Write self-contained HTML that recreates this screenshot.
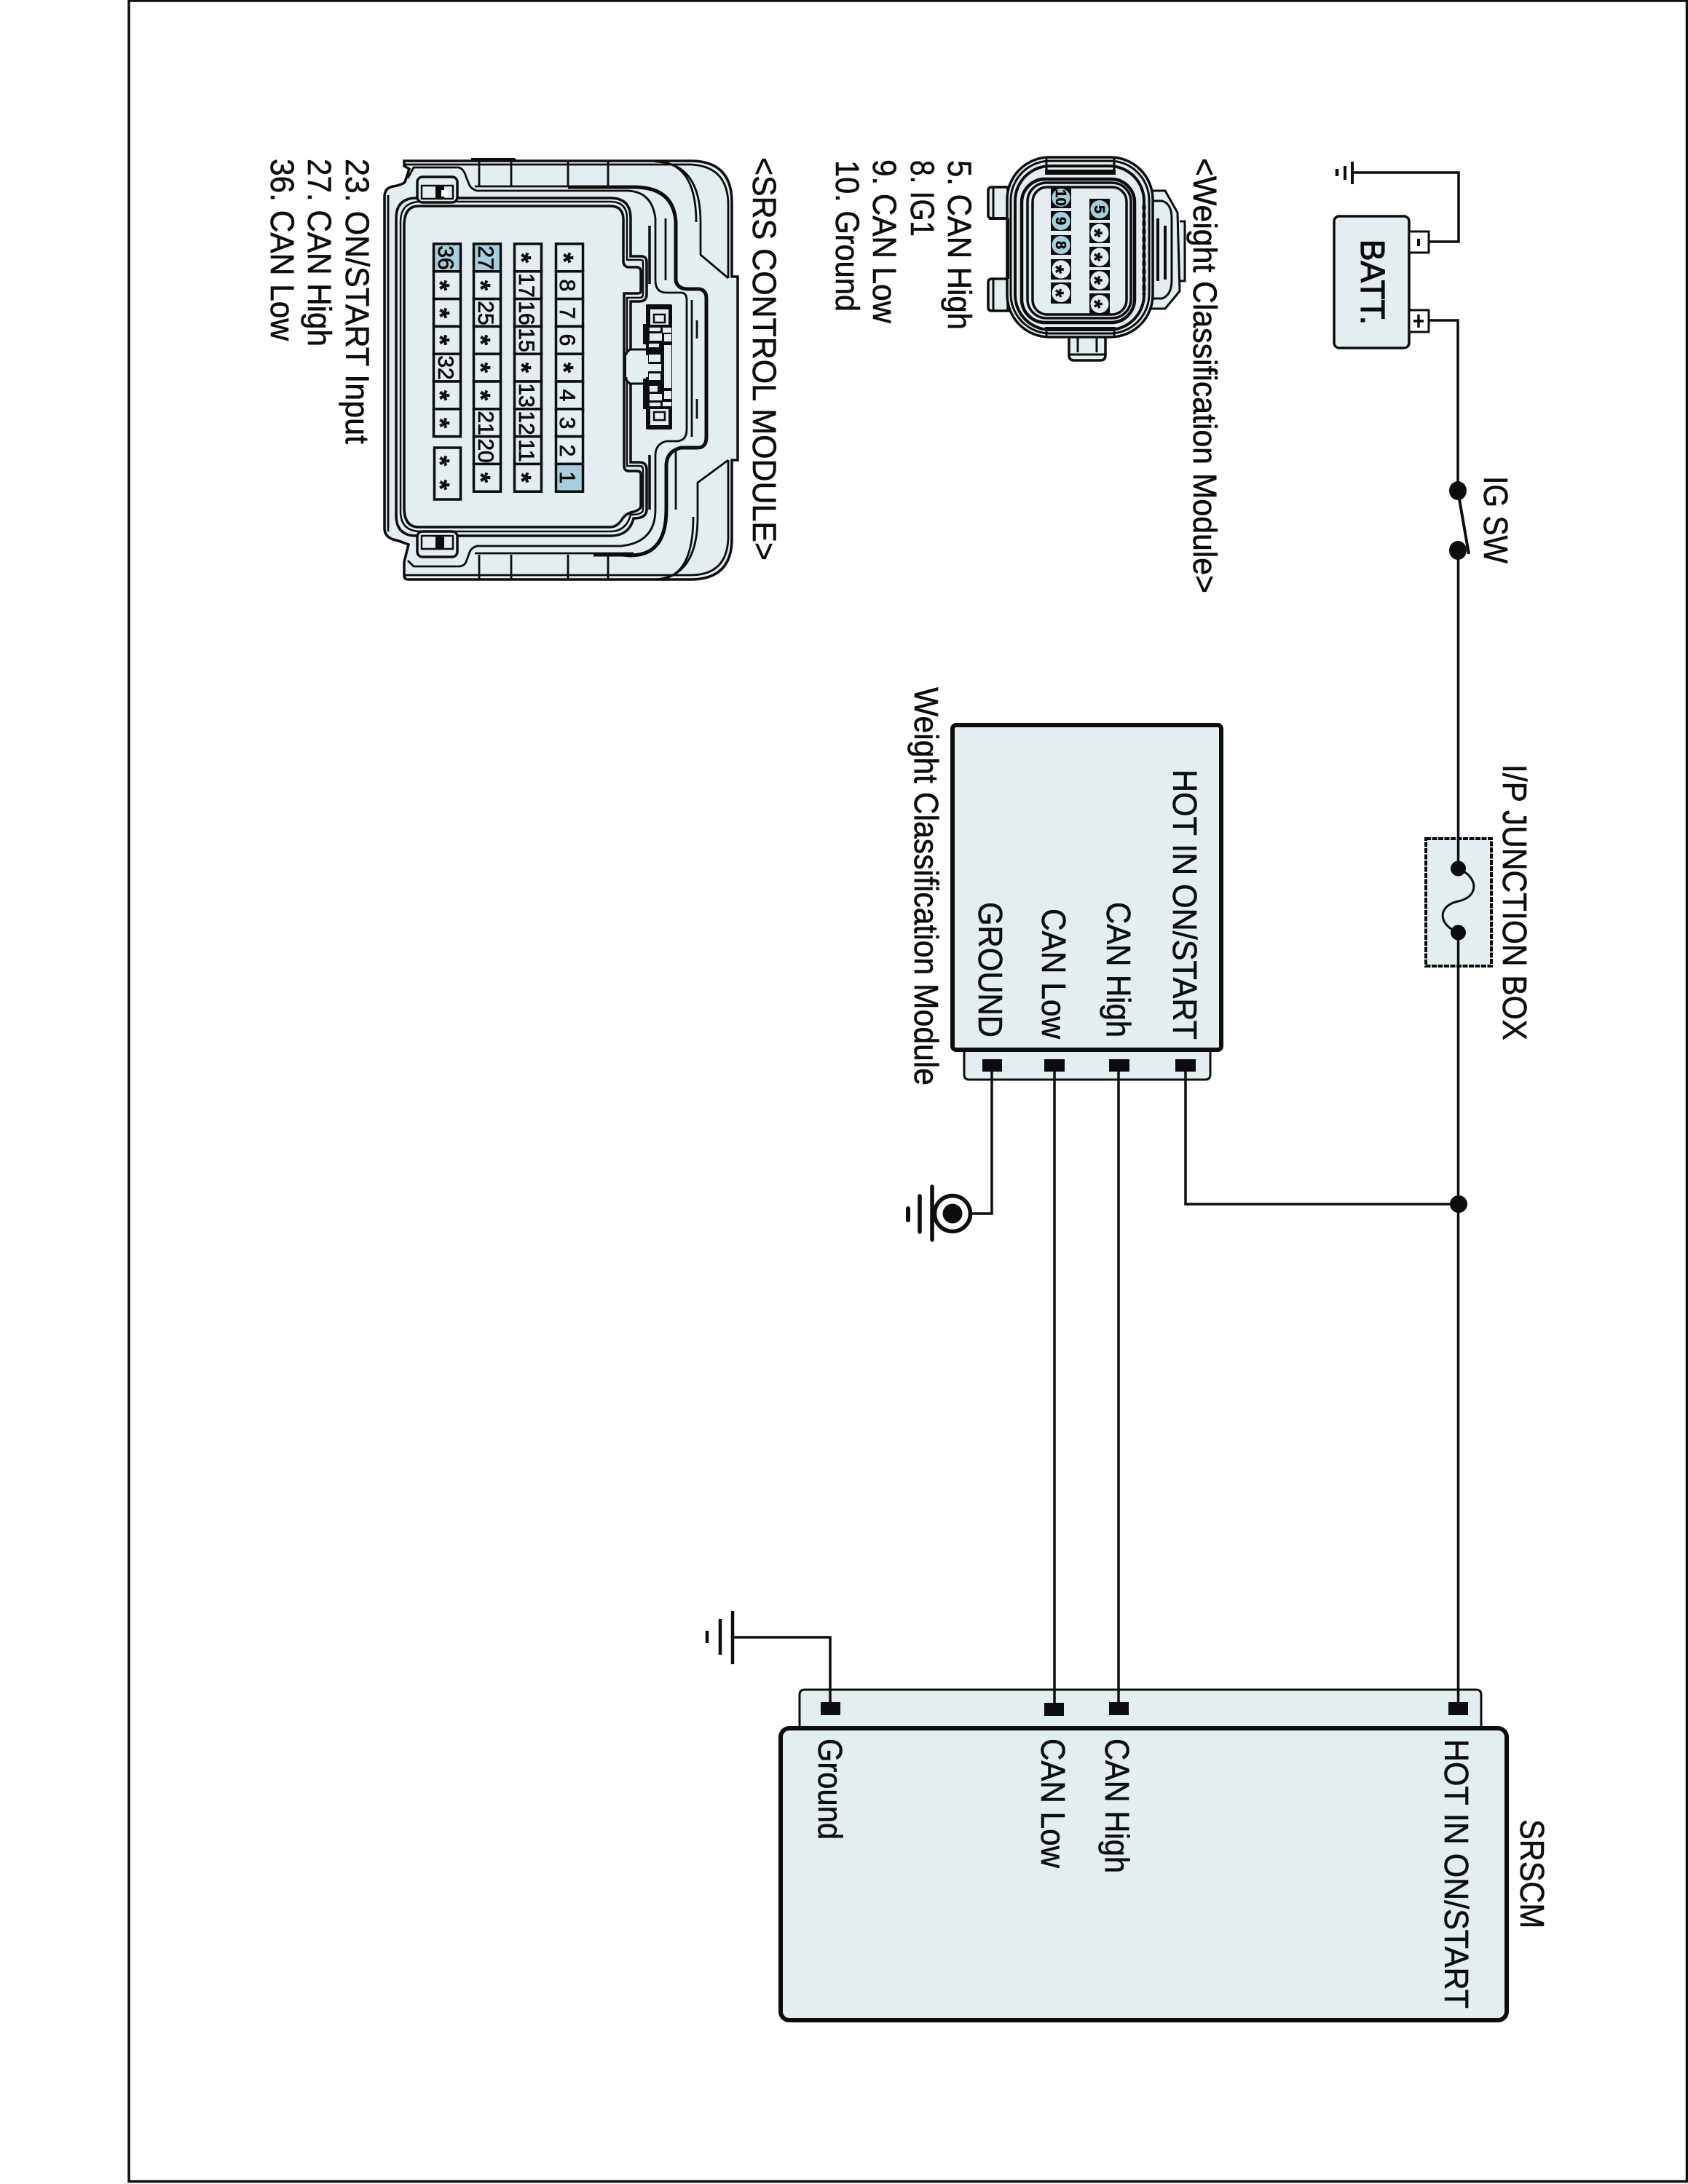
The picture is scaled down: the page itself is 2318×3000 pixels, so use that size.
<!DOCTYPE html>
<html><head><meta charset="utf-8"><style>
html,body{margin:0;padding:0;background:#fff}
svg{display:block}
text{font-family:"Liberation Sans",sans-serif;fill:#0d0d0d;stroke:#0d0d0d;stroke-width:.6px}
.t{font-size:46px}.l{font-size:45px}.n{font-size:30px;text-anchor:middle;stroke-width:.8px}.a{font-size:36px;font-weight:bold;text-anchor:middle}
.w{font-size:20px;text-anchor:middle;font-weight:bold}.b{font-size:30px;font-weight:bold;text-anchor:middle}
.k{fill:#0d0d0d;stroke:none}
.c{fill:#e4eef0;stroke:#0d0d0d;stroke-width:3.5}
.h{fill:#a5d0db;stroke:#0d0d0d;stroke-width:3.5}
</style></head><body>
<svg width="2318" height="3000" viewBox="0 0 2318 3000" xmlns="http://www.w3.org/2000/svg">
<rect width="2318" height="3000" fill="#fff"/>
<path d="M177 1H2316.5V2996.5H177Z" fill="none" stroke="#0d0d0d" stroke-width="3.5"/>

<!-- top ground + battery -->
<g fill="none" stroke="#0d0d0d" stroke-width="3.5">
<path d="M1857 237H2003V332H1962"/>
<path d="M1962 440H2002V674"/>
<path d="M2017 761L2003 680" stroke-width="4"/>
<path d="M1857 222V253M1847 228V247" stroke-width="4"/>
<path d="M1836 232V242" stroke-width="4.5"/>
</g>
<rect x="1832" y="297" width="103" height="181" rx="7" fill="#e4eef0" stroke="#0d0d0d" stroke-width="3.5"/>
<rect x="1935" y="318" width="27" height="29" fill="#fff" stroke="#0d0d0d" stroke-width="3"/>
<rect x="1935" y="426" width="27" height="30" fill="#fff" stroke="#0d0d0d" stroke-width="3"/>
<path d="M1948 328V338" stroke="#0d0d0d" stroke-width="4"/>
<path d="M1948 432V450M1941 441H1955" stroke="#0d0d0d" stroke-width="3.5"/>
<text class="t" style="stroke-width:1.2px" transform="translate(1869,329) rotate(90)" textLength="117" lengthAdjust="spacingAndGlyphs">BATT.</text>
<ellipse cx="2002" cy="674" rx="12" ry="13" class="k"/>
<ellipse cx="2002" cy="756" rx="12" ry="13" class="k"/>
<text class="t" transform="translate(2038,654) rotate(90)" textLength="120" lengthAdjust="spacingAndGlyphs">IG SW</text>

<!-- fuse -->
<rect x="1958" y="1152" width="90" height="175" fill="#e4eef0" stroke="#0d0d0d" stroke-width="4" stroke-dasharray="7 1.5"/>
<path d="M2002.5 1193C2031 1205 2031 1232 2002.5 1238C1974 1244 1974 1270 2002.5 1281" fill="none" stroke="#0d0d0d" stroke-width="3"/>
<circle cx="2002.5" cy="1193" r="10.5" class="k"/>
<circle cx="2002.5" cy="1281" r="10.5" class="k"/>
<text class="t" transform="translate(2064,1050) rotate(90)" textLength="379" lengthAdjust="spacingAndGlyphs">I/P JUNCTION BOX</text>

<!-- weight classification module -->
<path d="M1324 1443V1476Q1324 1483 1331 1483H1655Q1662 1483 1662 1476V1443Z" fill="#e4eef0" stroke="#0d0d0d" stroke-width="3"/>
<rect x="1308" y="996" width="369" height="446" rx="5" fill="#e4eef0" stroke="#0d0d0d" stroke-width="6"/>

<!-- SRSCM boxes -->
<path d="M1098 2372V2328Q1098 2321 1105 2321H2027Q2034 2321 2034 2328V2372" fill="#e4eef0" stroke="#0d0d0d" stroke-width="3"/>
<rect x="1072" y="2374" width="997" height="401" rx="12" fill="#e4eef0" stroke="#0d0d0d" stroke-width="6"/>

<!-- wires on top of boxes -->
<g fill="none" stroke="#0d0d0d" stroke-width="3.5">
<path d="M2002.5 756V1193M2002.5 1281V2345"/>
<path d="M1362 1472V1667H1335"/>
<path d="M1448 1472V2345"/>
<path d="M1536 1472V2345"/>
<path d="M1628 1472V1654H2003"/>
<path d="M1140 2345V2249H1007"/>
</g>
<rect x="1349" y="1455" width="27" height="17" class="k"/>
<rect x="1434" y="1455" width="28" height="17" class="k"/>
<rect x="1523" y="1455" width="28" height="17" class="k"/>
<rect x="1614" y="1455" width="28" height="17" class="k"/>
<rect x="1127" y="2338" width="27" height="18" class="k"/>
<rect x="1434" y="2339" width="27" height="18" class="k"/>
<rect x="1523" y="2338" width="27" height="18" class="k"/>
<rect x="1989" y="2338" width="27" height="18" class="k"/>
<circle cx="2003" cy="1654" r="12" class="k"/>
<circle cx="1308" cy="1667" r="24.5" fill="#fff" stroke="#0d0d0d" stroke-width="5.5"/>
<circle cx="1308" cy="1667" r="13.5" class="k"/>
<path d="M1280 1630V1703M1263 1643V1692" stroke="#0d0d0d" stroke-width="5.5" stroke-linecap="round"/>
<path d="M1247 1660V1676" stroke="#0d0d0d" stroke-width="6" stroke-linecap="round"/>
<text class="t" transform="translate(1611,1057) rotate(90)" textLength="371" lengthAdjust="spacingAndGlyphs">HOT IN ON/START</text>
<text class="t" transform="translate(1520,1239) rotate(90)" textLength="186" lengthAdjust="spacingAndGlyphs">CAN High</text>
<text class="t" transform="translate(1431,1248) rotate(90)" textLength="179" lengthAdjust="spacingAndGlyphs">CAN Low</text>
<text class="t" transform="translate(1344,1239) rotate(90)" textLength="186" lengthAdjust="spacingAndGlyphs">GROUND</text>
<text class="t" transform="translate(1256,944) rotate(90)" textLength="547" lengthAdjust="spacingAndGlyphs">Weight Classification Module</text>

<path d="M1006 2213V2286M989 2224V2273" stroke="#0d0d0d" stroke-width="4.5"/>
<path d="M971 2240V2257" stroke="#0d0d0d" stroke-width="4.5"/>
<text class="t" transform="translate(1124,2388) rotate(90)" textLength="139" lengthAdjust="spacingAndGlyphs">Ground</text>
<text class="t" transform="translate(1430,2388) rotate(90)" textLength="178" lengthAdjust="spacingAndGlyphs">CAN Low</text>
<text class="t" transform="translate(1518,2388) rotate(90)" textLength="185" lengthAdjust="spacingAndGlyphs">CAN High</text>
<text class="t" transform="translate(1984,2389) rotate(90)" textLength="370" lengthAdjust="spacingAndGlyphs">HOT IN ON/START</text>
<text class="t" transform="translate(2088,2499) rotate(90)" textLength="150" lengthAdjust="spacingAndGlyphs">SRSCM</text>

<!-- Weight Classification connector labels -->
<text class="l" transform="translate(1639,217) rotate(90)" textLength="598" lengthAdjust="spacingAndGlyphs">&lt;Weight Classification Module&gt;</text>
<text class="l" transform="translate(1302,220) rotate(90)" textLength="233" lengthAdjust="spacingAndGlyphs">5. CAN High</text>
<text class="l" transform="translate(1251,220) rotate(90)" textLength="105" lengthAdjust="spacingAndGlyphs">8. IG1</text>
<text class="l" transform="translate(1199,219) rotate(90)" textLength="225" lengthAdjust="spacingAndGlyphs">9. CAN Low</text>
<text class="l" transform="translate(1148,220) rotate(90)" textLength="208" lengthAdjust="spacingAndGlyphs">10. Ground</text>

<!-- Weight Classification connector drawing -->
<path d="M1620 304H1627V386H1620" fill="#e4eef0" stroke="#0d0d0d" stroke-width="3"/>
<path d="M1578 262H1600L1617 292L1620 400L1600 424H1578Z" fill="#e4eef0" stroke="#0d0d0d" stroke-width="3"/>
<path d="M1578 276H1596Q1609 280 1609 300V385Q1609 405 1596 410H1578" fill="none" stroke="#0d0d0d" stroke-width="3"/>
<path d="M1590 300V386M1600 310V384" fill="none" stroke="#0d0d0d" stroke-width="4"/>
<path d="M1384 257H1362Q1357 257 1357 262V295Q1357 300 1362 300H1384Z" fill="#e4eef0" stroke="#0d0d0d" stroke-width="3.5"/>
<path d="M1384 383H1362Q1357 383 1357 388V422Q1357 427 1362 427H1384Z" fill="#e4eef0" stroke="#0d0d0d" stroke-width="3.5"/>
<path d="M1468 460V488Q1468 495 1475 495H1511Q1518 495 1518 488V460Z" fill="#e4eef0" stroke="#0d0d0d" stroke-width="3.5"/>
<path d="M1364 257V300M1364 383V427M1468 487H1518M1480 462V484M1506 462V484" fill="none" stroke="#0d0d0d" stroke-width="3"/>
<g fill="#e4eef0" stroke="#0d0d0d">
<rect x="1383" y="216" width="200" height="247" rx="58" stroke-width="3.5"/>
<rect x="1388" y="221" width="190" height="237" rx="54" stroke-width="3"/>
<rect x="1394" y="228" width="177" height="225" rx="48" stroke-width="4"/>
<rect x="1403" y="246" width="155" height="197" rx="32" stroke-width="4.5"/>
<rect x="1411" y="251" width="142" height="186" rx="26" stroke-width="3.5"/>
<rect x="1418" y="257" width="129" height="175" rx="20" stroke-width="3.5"/>
</g>
<path d="M1358 300H1384M1384 300V383" fill="none" stroke="#0d0d0d" stroke-width="4"/>
<rect x="1435" y="233" width="97" height="7" class="k"/>
<rect x="1435" y="449" width="97" height="6" class="k"/>
<path d="M1437 216V233M1530 216V233M1437 455V463M1530 455V463" stroke="#0d0d0d" stroke-width="3" fill="none"/>
<path d="M1571 282V405" stroke="#0d0d0d" stroke-width="5" stroke-dasharray="6 5" fill="none"/>

<g class="k">
<rect x="1443" y="257" width="28" height="29"/>
<rect x="1443" y="290" width="28" height="27"/>
<rect x="1443" y="323" width="28" height="27"/>
<rect x="1443" y="356" width="28" height="28"/>
<rect x="1443" y="388" width="28" height="29"/>
<rect x="1496" y="273" width="28" height="29"/>
<rect x="1496" y="306" width="28" height="28"/>
<rect x="1496" y="339" width="28" height="28"/>
<rect x="1496" y="371" width="28" height="28"/>
<rect x="1496" y="403" width="28" height="29"/>
</g>
<circle cx="1457" cy="271.5" r="12.5" fill="#a5d0db"/>
<circle cx="1457" cy="303.5" r="12.5" fill="#a5d0db"/>
<circle cx="1457" cy="336.5" r="12.5" fill="#a5d0db"/>
<circle cx="1457" cy="370" r="12.5" fill="#e4eef0"/>
<circle cx="1457" cy="402.5" r="12.5" fill="#e4eef0"/>
<circle cx="1510" cy="287.5" r="12.5" fill="#a5d0db"/>
<circle cx="1510" cy="320" r="12.5" fill="#e4eef0"/>
<circle cx="1510" cy="353" r="12.5" fill="#e4eef0"/>
<circle cx="1510" cy="385" r="12.5" fill="#e4eef0"/>
<circle cx="1510" cy="417.5" r="12.5" fill="#e4eef0"/>
<text class="w" transform="translate(1450,271.5) rotate(90)" textLength="23" lengthAdjust="spacingAndGlyphs">10</text>
<text class="w" transform="translate(1450,303.5) rotate(90)">9</text>
<text class="w" transform="translate(1450,336.5) rotate(90)">8</text>
<text class="w" transform="translate(1503,287.5) rotate(90)">5</text>
<text class="b" transform="translate(1440,370) rotate(90)">*</text>
<text class="b" transform="translate(1440,402.5) rotate(90)">*</text>
<text class="b" transform="translate(1493,320) rotate(90)">*</text>
<text class="b" transform="translate(1493,353) rotate(90)">*</text>
<text class="b" transform="translate(1493,385) rotate(90)">*</text>
<text class="b" transform="translate(1493,417.5) rotate(90)">*</text>

<!-- SRS labels -->
<text class="l" transform="translate(1034,216) rotate(90)" textLength="554" lengthAdjust="spacingAndGlyphs">&lt;SRS CONTROL MODULE&gt;</text>
<text class="l" transform="translate(475,218) rotate(90)" textLength="392" lengthAdjust="spacingAndGlyphs">23. ON/START Input</text>
<text class="l" transform="translate(423,218) rotate(90)" textLength="258" lengthAdjust="spacingAndGlyphs">27. CAN High</text>
<text class="l" transform="translate(372,218) rotate(90)" textLength="250" lengthAdjust="spacingAndGlyphs">36. CAN Low</text>

<!-- SRS connector drawing -->
<path d="M647 217H706Q708 217 710 221H647Z" class="k"/>
<path d="M555 221L948 221Q1005 221 1005 278L1005 380L1013 380L1013 632L1005 632L1005 740Q1005 796 948 796L560 796Q555 796 555 790L555 772L561 748L553 745Q548 743 540 741Q528 737 528 726L528 270Q528 258 540 256Q552 254 556 250L562 232L555 228Z" fill="#e4eef0" stroke="#0d0d0d" stroke-width="3.5"/>
<g fill="none" stroke="#0d0d0d" stroke-width="2.8">
<path d="M533 268V730"/>
<path d="M556 226H948Q998 228 1000 278V382"/>
<path d="M556 790H948Q998 790 1000 740V632"/>
<path d="M900 222Q962 224 962 305V350L1000 382"/>
<path d="M905 222Q956 226 956 305"/>
<path d="M900 796Q958 792 958 710V663L1000 632"/>
<path d="M910 795Q952 788 952 710"/>
<path d="M658 221V255M702 221V255M780 221V255M835 221V255"/>
<path d="M658 762V796M702 762V796M780 762V796M835 762V796"/>
<path d="M560 245L568 230H630Q637 232 640 243L645 255Q648 260 655 262H860Q895 262 900 300V385Q900 402 915 402H935Q943 402 943 412V590Q943 605 930 606H915Q900 610 900 625V700Q900 745 853 750H655Q648 752 645 758L640 772Q637 778 630 778H568L560 770"/>
<path d="M914 300V385M915 632V710"/>
<path d="M928 300V385M928 620V700"/>
<path d="M950 412V600"/>
<path d="M957 440V465M957 548V575"/>
<path d="M652 256H870M652 760H870"/>
</g>
<path d="M780 257H870Q925 257 928 305V385Q930 397 945 397H958Q970 397 970 410V600Q970 615 958 615H935Q915 620 915 640V700Q915 770 855 762H815" fill="none" stroke="#0d0d0d" stroke-width="5"/>
<path d="M892 310V390M892 625V700" stroke="#0d0d0d" stroke-width="3.5" fill="none"/>
<!-- well, outer -->
<path d="M544 300Q544 272 572 272H838Q866 272 866 300V352H880Q888 352 888 360V404Q888 414 878 414H866V635H878Q888 635 888 645V700Q888 712 870 712Q864 736 838 736H572Q544 736 544 708Z" fill="#e4eef0" stroke="#0d0d0d" stroke-width="3.5"/>
<path d="M550 305Q550 277 578 277H838Q861 277 861 300V357H880Q883 357 883 360V404Q883 409 878 409H861V640H878Q883 640 883 645V700Q883 707 866 707Q860 730 838 730H578Q550 730 550 702Z" fill="none" stroke="#0d0d0d" stroke-width="2.5"/>
<path d="M575 283H838Q855 283 856 300V360Q857 367 864 367H875Q880 368 880 373V400Q880 403 875 403H857V640Q857 647 864 647H875Q880 647 880 652V695Q880 700 870 703Q860 705 855 712Q848 724 838 724H575Q556 724 555 700V310Q555 283 575 283Z" fill="#e4eef0" stroke="#0d0d0d" stroke-width="3.5"/>
<!-- clips -->
<g fill="#e4eef0" stroke="#0d0d0d">
<rect x="573" y="243" width="55" height="35" rx="7" stroke-width="3.5"/>
<rect x="579" y="255" width="43" height="18" stroke-width="2.5"/>
<rect x="573" y="730" width="55" height="35" rx="7" stroke-width="3.5"/>
<rect x="579" y="736" width="43" height="18" stroke-width="2.5"/>
</g>
<rect x="598" y="256" width="12" height="18" class="k"/>
<rect x="606" y="261" width="9" height="9" fill="#fff"/>
<rect x="598" y="736" width="12" height="17" class="k"/>
<!-- centre latch -->
<path d="M860 485L865 480H890V527H865L860 522Z" fill="#e4eef0" stroke="#0d0d0d" stroke-width="3"/>
<rect x="883" y="445" width="5" height="28" class="k"/>
<rect x="883" y="520" width="5" height="42" class="k"/>
<rect x="887" y="418" width="36" height="172" rx="2" class="k"/>
<g fill="#e4eef0">
<rect x="893" y="425" width="25" height="21"/>
<rect x="893" y="562" width="25" height="22"/>
<rect x="892" y="450" width="15" height="5"/>
<rect x="910" y="450" width="12" height="7"/>
<rect x="892" y="458" width="17" height="10"/>
<rect x="912" y="459" width="10" height="10"/>
<rect x="891" y="472" width="14" height="5"/>
<rect x="912" y="474" width="10" height="59"/>
<rect x="891" y="487" width="16" height="10"/>
<rect x="860" y="488" width="30" height="30"/>
<rect x="888" y="500" width="20" height="10"/>
<rect x="891" y="513" width="16" height="9"/>
<rect x="892" y="530" width="11" height="8"/>
<rect x="912" y="537" width="10" height="11"/>
<rect x="892" y="541" width="17" height="9"/>
<rect x="892" y="553" width="15" height="5"/>
<rect x="910" y="552" width="12" height="6"/>
</g>
<rect x="898" y="432" width="15" height="11" fill="#e4eef0" stroke="#0d0d0d" stroke-width="2.5"/>
<rect x="898" y="566" width="15" height="11" fill="#e4eef0" stroke="#0d0d0d" stroke-width="2.5"/>

<!-- SRS pins -->
<g>
<rect x="595.5" y="335" width="37" height="37.8" class="h"/><rect x="595.5" y="372.8" width="37" height="37.8" class="c"/><rect x="595.5" y="410.6" width="37" height="37.8" class="c"/><rect x="595.5" y="448.4" width="37" height="37.8" class="c"/><rect x="595.5" y="486.2" width="37" height="37.8" class="c"/><rect x="595.5" y="524" width="37" height="37.8" class="c"/><rect x="595.5" y="561.8" width="37" height="37.8" class="c"/><rect x="596.5" y="615" width="36" height="71" class="c"/>
<rect x="650.5" y="335" width="37" height="37.8" class="h"/><rect x="650.5" y="372.8" width="37" height="37.8" class="c"/><rect x="650.5" y="410.6" width="37" height="37.8" class="c"/><rect x="650.5" y="448.4" width="37" height="37.8" class="c"/><rect x="650.5" y="486.2" width="37" height="37.8" class="c"/><rect x="650.5" y="524" width="37" height="37.8" class="c"/><rect x="650.5" y="561.8" width="37" height="37.8" class="c"/><rect x="650.5" y="599.6" width="37" height="37.8" class="c"/><rect x="650.5" y="637.4" width="37" height="37.8" class="c"/>
<rect x="706.5" y="335" width="37" height="37.8" class="c"/><rect x="706.5" y="372.8" width="37" height="37.8" class="c"/><rect x="706.5" y="410.6" width="37" height="37.8" class="c"/><rect x="706.5" y="448.4" width="37" height="37.8" class="c"/><rect x="706.5" y="486.2" width="37" height="37.8" class="c"/><rect x="706.5" y="524" width="37" height="37.8" class="c"/><rect x="706.5" y="561.8" width="37" height="37.8" class="c"/><rect x="706.5" y="599.6" width="37" height="37.8" class="c"/><rect x="706.5" y="637.4" width="37" height="37.8" class="c"/>
<rect x="763.5" y="335" width="37" height="37.8" class="c"/><rect x="763.5" y="372.8" width="37" height="37.8" class="c"/><rect x="763.5" y="410.6" width="37" height="37.8" class="c"/><rect x="763.5" y="448.4" width="37" height="37.8" class="c"/><rect x="763.5" y="486.2" width="37" height="37.8" class="c"/><rect x="763.5" y="524" width="37" height="37.8" class="c"/><rect x="763.5" y="561.8" width="37" height="37.8" class="c"/><rect x="763.5" y="599.6" width="37" height="37.8" class="c"/><rect x="763.5" y="637.4" width="37" height="37.8" class="h"/>
</g>
<text class="n" transform="translate(602,354) rotate(90)">36</text>
<text class="a" transform="translate(592,392) rotate(90)">*</text>
<text class="a" transform="translate(592,430) rotate(90)">*</text>
<text class="a" transform="translate(592,467) rotate(90)">*</text>
<text class="n" transform="translate(602,505) rotate(90)">32</text>
<text class="a" transform="translate(592,543) rotate(90)">*</text>
<text class="a" transform="translate(592,581) rotate(90)">*</text>
<text class="a" transform="translate(592,633) rotate(90)">*</text>
<text class="a" transform="translate(592,666) rotate(90)">*</text>
<text class="n" transform="translate(657,354) rotate(90)">27</text>
<text class="a" transform="translate(648,392) rotate(90)">*</text>
<text class="n" transform="translate(657,430) rotate(90)">25</text>
<text class="a" transform="translate(648,467) rotate(90)">*</text>
<text class="a" transform="translate(648,505) rotate(90)">*</text>
<text class="a" transform="translate(648,543) rotate(90)">*</text>
<text class="n" transform="translate(657,581) rotate(90)">21</text>
<text class="n" transform="translate(657,619) rotate(90)">20</text>
<text class="a" transform="translate(648,656) rotate(90)">*</text>
<text class="a" transform="translate(704,354) rotate(90)">*</text>
<text class="n" transform="translate(713,392) rotate(90)">17</text>
<text class="n" transform="translate(713,430) rotate(90)">16</text>
<text class="n" transform="translate(713,467) rotate(90)">15</text>
<text class="a" transform="translate(704,505) rotate(90)">*</text>
<text class="n" transform="translate(713,543) rotate(90)">13</text>
<text class="n" transform="translate(713,581) rotate(90)">12</text>
<text class="n" transform="translate(713,619) rotate(90)">11</text>
<text class="a" transform="translate(704,656) rotate(90)">*</text>
<text class="a" transform="translate(762,354) rotate(90)">*</text>
<text class="n" transform="translate(769,392) rotate(90)">8</text>
<text class="n" transform="translate(769,430) rotate(90)">7</text>
<text class="n" transform="translate(769,467) rotate(90)">6</text>
<text class="a" transform="translate(762,505) rotate(90)">*</text>
<text class="n" transform="translate(769,543) rotate(90)">4</text>
<text class="n" transform="translate(769,581) rotate(90)">3</text>
<text class="n" transform="translate(769,619) rotate(90)">2</text>
<text class="n" transform="translate(769,656) rotate(90)">1</text>
</svg>
</body></html>
